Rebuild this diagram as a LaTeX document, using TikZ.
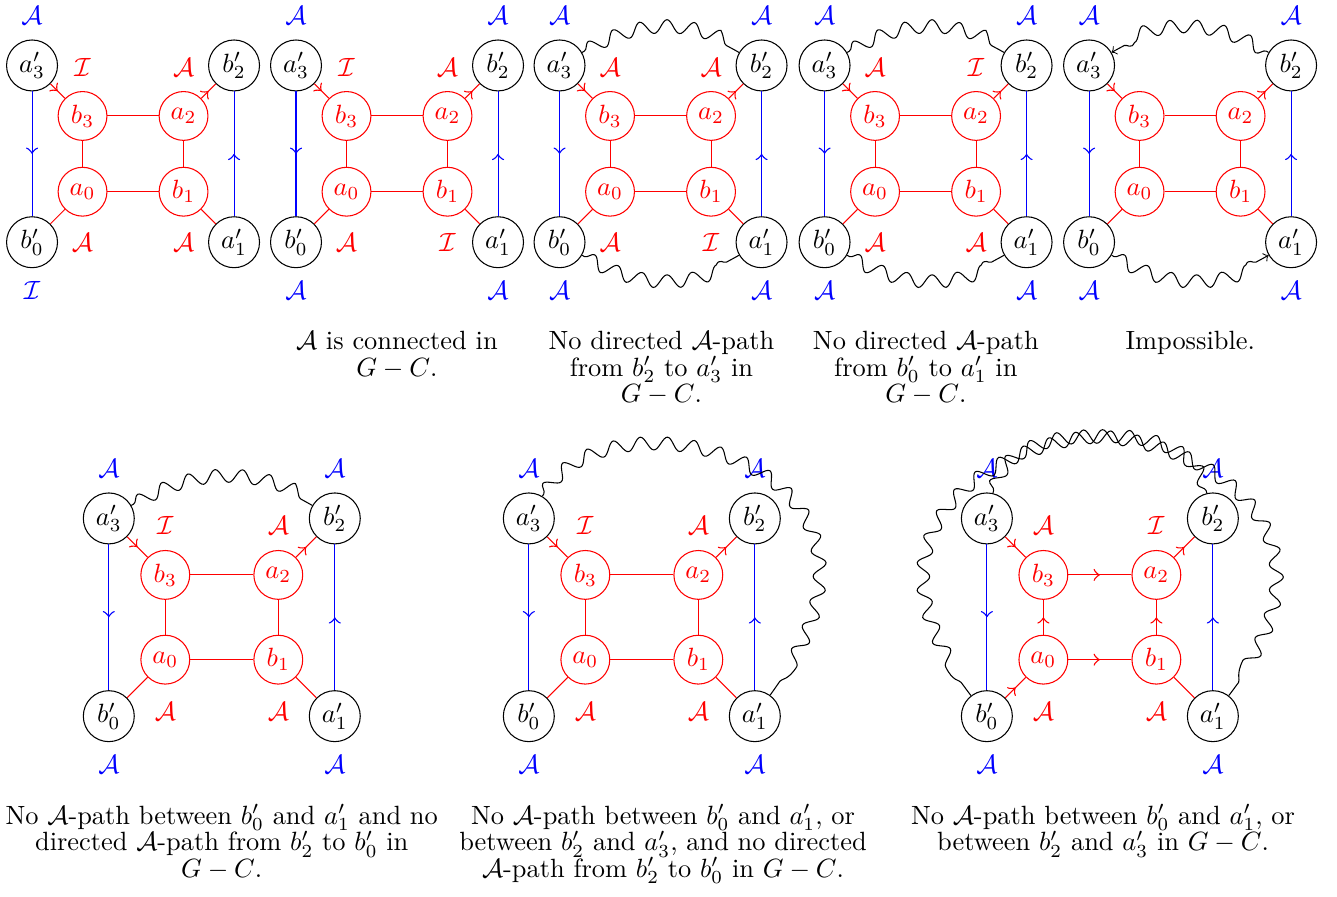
\documentclass[tikz,border=0pt]{standalone}
\usetikzlibrary{positioning}
\usetikzlibrary{decorations.pathmorphing,decorations.markings}

\tikzset{
  vtx/.style={circle, draw, minimum size=19.3pt, inner sep=1pt},
  rvtx/.style={circle, draw=red, text=red, minimum size=18.5pt, inner sep=1pt},
  blab/.style={blue, inner sep=0pt},
  rlab/.style={red, inner sep=0pt},
  mid arrow/.style={postaction={decorate, decoration={markings, mark=at position 0.5 with {\arrow[scale=1.3]{>}}}}},
  core/.style={red},
  wavy/.style={decorate, decoration={snake, amplitude=2.5pt, segment length=10pt, pre length=1pt, post length=2pt}},
  capt/.style={align=center, anchor=north, inner sep=0pt, font=\fontsize{10}{10}\selectfont},
}

% heights of the red labels (top row)
\newcommand{\labtop}{2.46}
\newcommand{\labbot}{-1.0}

% one gadget: blue labels (a3,b2,b0,a1), then red labels (a3,b2,b0,a1)
\newcommand{\gadget}[8]{
  \node[rvtx] (a0) at (0,0) {$a_0$};
  \node[rvtx] (b1) at (2,0) {$b_1$};
  \node[rvtx] (a2) at (2,1.5) {$a_2$};
  \node[rvtx] (b3) at (0,1.5) {$b_3$};
  \node[vtx] (bp0) at (-1,-1) {$b'_0$};
  \node[vtx] (ap1) at (3,-1) {$a'_1$};
  \node[vtx] (bp2) at (3,2.5) {$b'_2$};
  \node[vtx] (ap3) at (-1,2.5) {$a'_3$};
  \ifx\relax#1\relax\else\node[blab, above=5.5pt] (tap3) at (ap3.north) {$\mathcal{#1}$};\fi
  \ifx\relax#2\relax\else\node[blab, above=5.5pt] (tbp2) at (bp2.north) {$\mathcal{#2}$};\fi
  \ifx\relax#3\relax\else\node[blab, below=5pt] (tbp0) at (bp0.south) {$\mathcal{#3}$};\fi
  \ifx\relax#4\relax\else\node[blab, below=5pt] (tap1) at (ap1.south) {$\mathcal{#4}$};\fi
  \ifx\relax#5\relax\else\node[rlab] (rap3) at (0,\labtop) {$\mathcal{#5}$};\fi
  \ifx\relax#6\relax\else\node[rlab] (rbp2) at (2,\labtop) {$\mathcal{#6}$};\fi
  \ifx\relax#7\relax\else\node[rlab] (rbp0) at (0,\labbot) {$\mathcal{#7}$};\fi
  \ifx\relax#8\relax\else\node[rlab] (rap1) at (2,\labbot) {$\mathcal{#8}$};\fi
  \draw[blue, mid arrow] (ap3) -- (bp0);
  \draw[blue, mid arrow] (ap1) -- (bp2);
  \draw[red, mid arrow] (ap3) -- (b3);
  \draw[red, mid arrow] (a2) -- (bp2);
  \draw[red] (b1) -- (ap1);
  \draw[core] (bp0) -- (a0);
  \draw[core] (a0) -- (b1);
  \draw[core] (b3) -- (a2);
  \draw[core] (a0) -- (b3);
  \draw[core] (b1) -- (a2);
}

\begin{document}
\begin{tikzpicture}
\useasboundingbox (0,0) rectangle (17.803,11.931);

% top row
\begin{scope}[shift={(1.099,9.378)}, x=0.6725cm, y=0.6725cm, name prefix=p1-]
  \gadget{A}{}{I}{}{I}{A}{A}{A}
\end{scope}
\begin{scope}[shift={(4.614,9.378)}, x=0.6725cm, y=0.6725cm, name prefix=p2-]
  \gadget{A}{A}{A}{A}{I}{A}{A}{I}
\end{scope}
\begin{scope}[shift={(8.123,9.378)}, x=0.6725cm, y=0.6725cm, name prefix=p3-]
  \gadget{A}{A}{A}{A}{A}{A}{A}{I}
\end{scope}
\begin{scope}[shift={(11.652,9.378)}, x=0.6725cm, y=0.6725cm, name prefix=p4-]
  \gadget{A}{A}{A}{A}{A}{I}{A}{A}
\end{scope}
\begin{scope}[shift={(15.174,9.378)}, x=0.6725cm, y=0.6725cm, name prefix=p5-]
  \gadget{A}{A}{A}{A}{}{}{}{}
\end{scope}

% paths outside G - C
\draw[wavy] (p3-ap3) to[bend left=30] (p3-bp2);
\draw[wavy] (p3-bp0) to[bend right=30] (p3-ap1);
\draw[wavy] (p4-ap3) to[bend left=30] (p4-bp2);
\draw[wavy] (p4-bp0) to[bend right=30] (p4-ap1);
\draw[wavy, ->] (p5-bp2) to[bend right=30] (p5-ap3);
\draw[wavy, ->] (p5-bp0) to[bend right=30] (p5-ap1);

\node[capt] (c2) at (5.285,7.523) {$\mathcal{A}$ is connected in\\ $G-C$.};
\node[capt] (c3) at (8.807,7.523) {No directed $\mathcal{A}$-path\\ from $b'_2$ to $a'_3$ in\\ $G-C$.};
\node[capt] (c4) at (12.328,7.523) {No directed $\mathcal{A}$-path\\ from $b'_0$ to $a'_1$ in\\ $G-C$.};
\node[capt] (c5) at (15.849,7.523) {Impossible.};

% bottom row
\renewcommand{\labtop}{2.38}
\renewcommand{\labbot}{-0.92}
\begin{scope}[shift={(2.201,3.147)}, x=0.7523cm, y=0.7523cm, name prefix=p6-]
  \gadget{A}{A}{A}{A}{I}{A}{A}{A}
\end{scope}
\begin{scope}[shift={(7.794,3.147)}, x=0.7523cm, y=0.7523cm, name prefix=p7-]
  \gadget{A}{A}{A}{A}{I}{A}{A}{A}
  \draw[wavy] (ap3) .. controls (0.4,4.8) and (6.2,3.4) .. (ap1);
\end{scope}
\begin{scope}[shift={(13.893,3.147)}, x=0.7523cm, y=0.7523cm, name prefix=p8-,
    core/.style={red, mid arrow}]
  \gadget{A}{A}{A}{A}{A}{I}{A}{A}
  \draw[wavy] (ap3) .. controls (-0.4,5.0) and (6.4,3.4) .. (ap1);
  \draw[wavy] (bp2) .. controls (2.4,5.0) and (-4.4,3.4) .. (bp0);
\end{scope}
\draw[wavy] (p6-ap3) to[bend left=30] (p6-bp2);

\node[capt] (c6) at (2.953,1.225) {No $\mathcal{A}$-path between $b'_0$ and $a'_1$ and no\\ directed $\mathcal{A}$-path from $b'_2$ to $b'_0$ in\\ $G-C$.};
\node[capt] (c7) at (8.829,1.225) {No $\mathcal{A}$-path between $b'_0$ and $a'_1$, or\\ between $b'_2$ and $a'_3$, and no directed\\ $\mathcal{A}$-path from $b'_2$ to $b'_0$ in $G-C$.};
\node[capt] (c8) at (14.688,1.225) {No $\mathcal{A}$-path between $b'_0$ and $a'_1$, or\\ between $b'_2$ and $a'_3$ in $G-C$.};
\end{tikzpicture}
\end{document}
